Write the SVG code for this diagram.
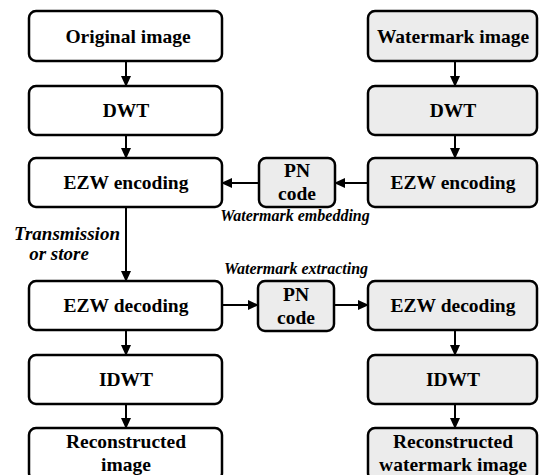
<svg xmlns="http://www.w3.org/2000/svg" width="539" height="475" viewBox="0 0 539 475">
<defs>
<marker id="ah" markerWidth="11" markerHeight="10" refX="10" refY="5" orient="auto" markerUnits="userSpaceOnUse">
<path d="M0,0 L11,5 L0,10 Z" fill="#000"/>
</marker>
</defs>
<style>
.box{fill:#fff;stroke:#000;stroke-width:2.5}
.gbox{fill:#ececec;stroke:#000;stroke-width:2.5}
text{font-family:'Liberation Serif','Times New Roman','DejaVu Serif',serif;font-weight:bold;text-anchor:middle;fill:#000}
.t{font-size:19.5px}
.it{font-style:italic;font-size:16px}
.it19{font-style:italic;font-size:19px}
.c{stroke:#000;stroke-width:2;fill:none;marker-end:url(#ah)}
</style>
<rect width="539" height="475" fill="#fff"/>
<g id="original">
<rect class="box" x="29" y="11" width="193" height="50" rx="7"/>
<text class="t" x="128" y="43">Original image</text>
</g>
<g id="dwt-left">
<rect class="box" x="29" y="86" width="193" height="49" rx="7"/>
<text class="t" x="126" y="117">DWT</text>
</g>
<g id="ezw-enc-left">
<rect class="box" x="29" y="158" width="193" height="49" rx="7"/>
<text class="t" x="126" y="189">EZW encoding</text>
</g>
<g id="ezw-dec-left">
<rect class="box" x="29" y="281" width="193" height="49" rx="7"/>
<text class="t" x="126" y="312">EZW decoding</text>
</g>
<g id="idwt-left">
<rect class="box" x="29" y="355" width="193" height="49" rx="7"/>
<text class="t" x="126" y="386">IDWT</text>
</g>
<g id="recon-left">
<rect class="box" x="29" y="428" width="193" height="52" rx="7"/>
<text class="t" x="126" y="448">Reconstructed</text>
<text class="t" x="126" y="471">image</text>
</g>
<g id="watermark">
<rect class="gbox" x="368" y="11" width="169" height="50" rx="7"/>
<text class="t" x="453" y="43">Watermark image</text>
</g>
<g id="dwt-right">
<rect class="gbox" x="368" y="86" width="169" height="49" rx="7"/>
<text class="t" x="453" y="117">DWT</text>
</g>
<g id="ezw-enc-right">
<rect class="gbox" x="368" y="158" width="169" height="49" rx="7"/>
<text class="t" x="453" y="189">EZW encoding</text>
</g>
<g id="ezw-dec-right">
<rect class="gbox" x="368" y="281" width="169" height="49" rx="7"/>
<text class="t" x="453" y="312">EZW decoding</text>
</g>
<g id="idwt-right">
<rect class="gbox" x="368" y="355" width="169" height="49" rx="7"/>
<text class="t" x="453" y="386">IDWT</text>
</g>
<g id="recon-right">
<rect class="gbox" x="368" y="428" width="169" height="52" rx="7"/>
<text class="t" x="453" y="448">Reconstructed</text>
<text class="t" x="453" y="471">watermark image</text>
</g>
<g id="pn-top">
<rect class="gbox" x="259" y="158" width="76" height="49" rx="7"/>
<text class="t" x="297" y="177">PN</text>
<text class="t" x="297" y="200">code</text>
</g>
<g id="pn-bottom">
<rect class="gbox" x="258" y="281" width="76" height="50" rx="7"/>
<text class="t" x="296" y="301">PN</text>
<text class="t" x="296" y="324">code</text>
</g>
<g id="connectors">
<line class="c" x1="126" y1="62" x2="126" y2="86"/>
<line class="c" x1="126" y1="136" x2="126" y2="158"/>
<line class="c" x1="126" y1="208" x2="126" y2="281"/>
<line class="c" x1="126" y1="331" x2="126" y2="355"/>
<line class="c" x1="126" y1="405" x2="126" y2="428"/>
<line class="c" x1="455" y1="62" x2="455" y2="86"/>
<line class="c" x1="455" y1="136" x2="455" y2="158"/>
<line class="c" x1="455" y1="331" x2="455" y2="355"/>
<line class="c" x1="455" y1="405" x2="455" y2="428"/>
<line class="c" x1="368" y1="183" x2="335" y2="183"/>
<line class="c" x1="259" y1="183" x2="222" y2="183"/>
<line class="c" x1="222" y1="305" x2="258" y2="305"/>
<line class="c" x1="334" y1="305" x2="368" y2="305"/>
</g>
<g id="labels">
<text class="it" x="295" y="221">Watermark embedding</text>
<text class="it" x="296" y="274">Watermark extracting</text>
<text class="it19" x="67" y="240">Transmission</text>
<text class="it19" x="59" y="260">or store</text>
</g>
</svg>
